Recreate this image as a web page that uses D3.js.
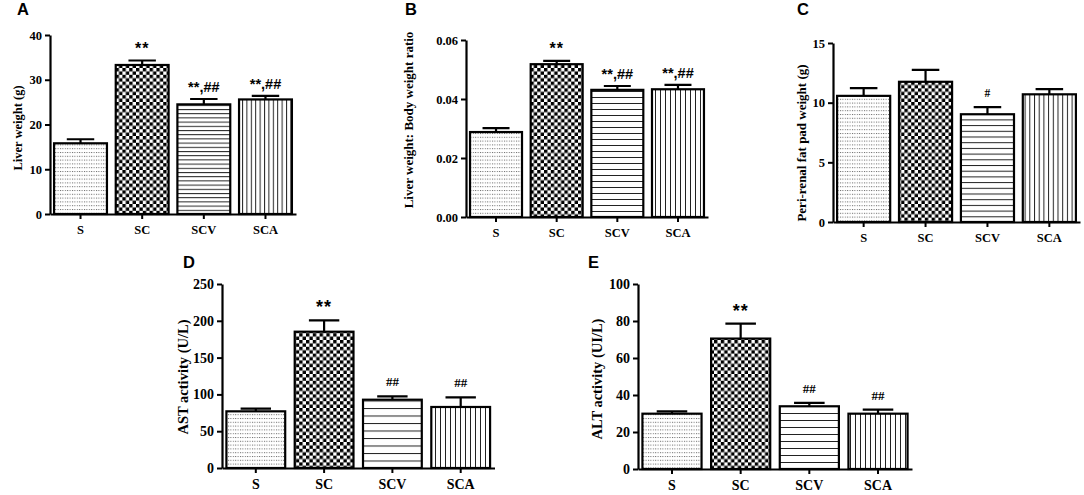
<!DOCTYPE html>
<html>
<head>
<meta charset="utf-8">
<script src="https://cdn.jsdelivr.net/npm/d3@7"></script>
<style>
  body { margin: 0; background: #fff; }
  svg { display: block; }
  .tick text { font-family: "Liberation Serif", "Times New Roman", serif; font-weight: bold; fill: #000; }
</style>
</head>
<body>
<script>
var w = 1084;
var h = 495;

// groups on every panel
var groups = ["S", "SC", "SCV", "SCA"];

// A: liver weight (g)
var liverWeight = [15.8, 33.3, 24.5, 25.6];
var liverWeightErr = [0.9, 1.0, 1.2, 0.8];
var liverWeightSig = ["", "**", "**,##", "**,##"];
var liverWeightTicks = [0, 10, 20, 30, 40];

// B: liver weight / body weight
var liverRatio = [0.0288, 0.0518, 0.0431, 0.0433];
var liverRatioErr = [0.0013, 0.0011, 0.0013, 0.0015];
var liverRatioSig = ["", "**", "**,##", "**,##"];
var liverRatioTicks = [0, 0.02, 0.04, 0.06];

// C: peri-renal fat pad weight (g)
var fatPad = [10.57, 11.75, 9.03, 10.7];
var fatPadErr = [0.65, 1.0, 0.6, 0.43];
var fatPadSig = ["", "", "#", ""];
var fatPadTicks = [0, 5, 10, 15];

// D: AST activity (U/L)
var ast = [77, 185.2, 92.8, 82.9];
var astErr = [3.6, 15.4, 4.6, 13.1];
var astSig = ["", "**", "##", "##"];
var astTicks = [0, 50, 100, 150, 200, 250];

// E: ALT activity (UI/L)
var alt = [29.9, 70.5, 33.9, 29.9];
var altErr = [1.3, 8.1, 1.8, 2.2];
var altSig = ["", "**", "##", "##"];
var altTicks = [0, 20, 40, 60, 80, 100];

var panels = [
  { id: "A", title: "Liver weight (g)", values: liverWeight, errs: liverWeightErr, sig: liverWeightSig, ticks: liverWeightTicks, fmt: d3.format("d"),
    x0: 50, x1: 296, yTop: 35, y0: 214, titleX: 22, titleY: 128, labelX: 17, labelY: 15, hGap: 4.2, vGap: 4.4,
    fs: 12.5, tfs: 12.5, sfs: 16 },
  { id: "B", title: "Liver weight: Body weight ratio", values: liverRatio, errs: liverRatioErr, sig: liverRatioSig, ticks: liverRatioTicks, fmt: d3.format(".2f"),
    x0: 466, x1: 708, yTop: 40, y0: 217, titleX: 413, titleY: 120, labelX: 405, labelY: 15, hGap: 6, vGap: 5,
    fs: 12.5, tfs: 13, sfs: 16 },
  { id: "C", title: "Peri-renal fat pad weight (g)", values: fatPad, errs: fatPadErr, sig: fatPadSig, ticks: fatPadTicks, fmt: d3.format("d"),
    x0: 833, x1: 1080, yTop: 43, y0: 222, titleX: 806, titleY: 143, labelX: 797, labelY: 15, hGap: 5.7, vGap: 4.7,
    fs: 12.5, tfs: 13, sfs: 16 },
  { id: "D", title: "AST activity (U/L)", values: ast, errs: astErr, sig: astSig, ticks: astTicks, fmt: d3.format("d"),
    x0: 222, x1: 494.5, yTop: 284, y0: 468, titleX: 188, titleY: 377, labelX: 183, labelY: 268, hGap: 7.5, vGap: 5,
    fs: 14, tfs: 14.5, sfs: 18 },
  { id: "E", title: "ALT activity (UI/L)", values: alt, errs: altErr, sig: altSig, ticks: altTicks, fmt: d3.format("d"),
    x0: 638, x1: 912, yTop: 284, y0: 469, titleX: 602, titleY: 379, labelX: 588, labelY: 268, hGap: 7, vGap: 5,
    fs: 14, tfs: 14.5, sfs: 18 }
];

var svg = d3.select("body")
  .append("svg")
  .attr("width", w)
  .attr("height", h);

var defs = svg.append("defs");

// fill patterns, one set per panel because stripe spacing differs a bit
panels.forEach(function(p) {
  var dots = defs.append("pattern")
    .attr("id", "dots" + p.id)
    .attr("patternUnits", "userSpaceOnUse")
    .attr("width", 2.4).attr("height", 3.8);
  dots.append("rect").attr("width", 2.4).attr("height", 3.8).attr("fill", "#fff");
  dots.append("rect").attr("width", 1).attr("height", 1).attr("fill", "#666");

  var check = defs.append("pattern")
    .attr("id", "check" + p.id)
    .attr("patternUnits", "userSpaceOnUse")
    .attr("width", 6.8).attr("height", 6.8);
  check.append("rect").attr("width", 6.8).attr("height", 6.8).attr("fill", "#fff");
  check.append("rect").attr("width", 3.4).attr("height", 3.4).attr("fill", "#000");
  check.append("rect").attr("x", 3.4).attr("y", 3.4).attr("width", 3.4).attr("height", 3.4).attr("fill", "#000");

  var hl = defs.append("pattern")
    .attr("id", "hl" + p.id)
    .attr("patternUnits", "userSpaceOnUse")
    .attr("width", 10).attr("height", p.hGap)
    .attr("y", p.y0);
  hl.append("rect").attr("width", 10).attr("height", p.hGap).attr("fill", "#fff");
  hl.append("rect").attr("width", 10).attr("height", 1).attr("fill", "#222");

  var vl = defs.append("pattern")
    .attr("id", "vl" + p.id)
    .attr("patternUnits", "userSpaceOnUse")
    .attr("width", p.vGap).attr("height", 10);
  vl.append("rect").attr("width", p.vGap).attr("height", 10).attr("fill", "#fff");
  vl.append("rect").attr("width", 1).attr("height", 10).attr("fill", "#222");
});

var fills = ["dots", "check", "hl", "vl"];

panels.forEach(function(p) {
  var g = svg.append("g");

  var xScale = d3.scaleBand()
    .domain(groups)
    .range([p.x0, p.x1])
    .paddingInner(0.11)
    .paddingOuter(0.05);

  var yScale = d3.scaleLinear()
    .domain([0, d3.max(p.ticks)])
    .range([p.y0, p.yTop]);

  var data = groups.map(function(gr, i) {
    return { name: gr, i: i, v: p.values[i], e: p.errs[i], s: p.sig[i] };
  });

  // error bars (upper only), drawn before bars
  var cap = xScale.bandwidth() * 0.5;
  g.selectAll(".err")
    .data(data)
    .enter()
    .append("path")
    .attr("d", function(d) {
      var cx = xScale(d.name) + xScale.bandwidth() / 2;
      var top = yScale(d.v + d.e);
      return "M" + cx + "," + yScale(d.v) + "V" + top +
        "M" + (cx - cap / 2) + "," + top + "H" + (cx + cap / 2);
    })
    .attr("stroke", "#000")
    .attr("stroke-width", 2.2)
    .attr("fill", "none");

  g.selectAll(".bar")
    .data(data)
    .enter()
    .append("rect")
    .attr("x", function(d) { return xScale(d.name) + 1; })
    .attr("y", function(d) { return yScale(d.v); })
    .attr("width", xScale.bandwidth() - 2)
    .attr("height", function(d) { return yScale(0) - yScale(d.v); })
    .attr("fill", function(d) { return "url(#" + fills[d.i] + p.id + ")"; })
    .attr("stroke", "#000")
    .attr("stroke-width", 2.2);

  // significance marks
  g.selectAll(".sig")
    .data(data.filter(function(d) { return d.s; }))
    .enter()
    .append("text")
    .attr("x", function(d) { return xScale(d.name) + xScale.bandwidth() / 2; })
    .attr("y", function(d) {
      return yScale(d.v + d.e) - (d.s.indexOf("*") >= 0 ? 7 : 10);
    })
    .attr("text-anchor", "middle")
    .style("font-family", function(d) {
      return d.s.indexOf("*") >= 0 ? "'Liberation Sans', Arial, sans-serif" : "'Liberation Serif', serif";
    })
    .style("font-weight", "bold")
    .style("font-size", function(d) {
      if (d.s === "**") return p.sfs + "px";
      if (d.s.indexOf("*") >= 0) return "14.5px";
      return (p.fs - 1) + "px";
    })
    .style("letter-spacing", function(d) { return d.s === "**" ? "1px" : "0px"; })
    .text(function(d) { return d.s; });

  var xAxis = d3.axisBottom(xScale).tickSize(5).tickSizeOuter(0).tickPadding(6);
  var yAxis = d3.axisLeft(yScale).tickValues(p.ticks).tickFormat(p.fmt)
    .tickSize(5).tickSizeOuter(0).tickPadding(3);

  var gx = g.append("g")
    .attr("transform", "translate(0," + p.y0 + ")")
    .call(xAxis);
  var gy = g.append("g")
    .attr("transform", "translate(" + p.x0 + ",0)")
    .call(yAxis);

  [gx, gy].forEach(function(a) {
    a.attr("font-size", p.fs);
    a.select(".domain").attr("stroke-width", 2.2).attr("stroke", "#000");
    a.selectAll(".tick line").attr("stroke-width", 2).attr("stroke", "#000");
  });

  // y title
  g.append("text")
    .attr("transform", "translate(" + p.titleX + "," + p.titleY + ") rotate(-90)")
    .attr("text-anchor", "middle")
    .style("font-family", "'Liberation Serif', 'Times New Roman', serif")
    .style("font-weight", "bold")
    .style("font-size", p.tfs + "px")
    .text(p.title);

  // panel letter
  g.append("text")
    .attr("x", p.labelX)
    .attr("y", p.labelY)
    .style("font-family", "'Liberation Sans', Arial, sans-serif")
    .style("font-weight", "bold")
    .style("font-size", "16.5px")
    .text(p.id);
});
</script>
</body>
</html>
